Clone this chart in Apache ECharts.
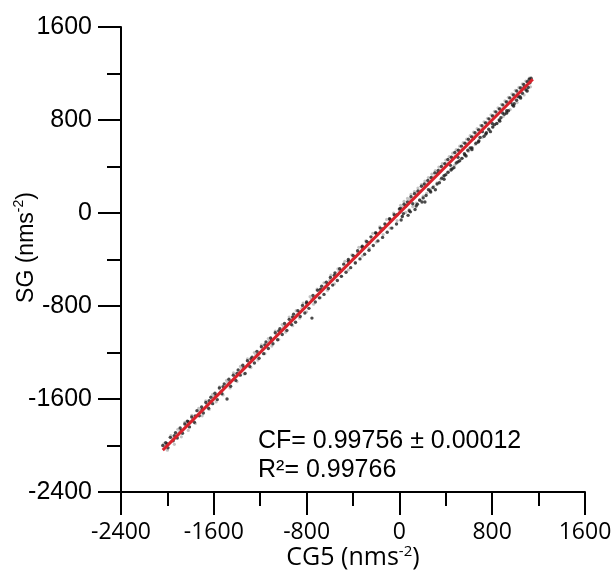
<!DOCTYPE html>
<html>
<head>
<meta charset="utf-8">
<script src="https://cdn.jsdelivr.net/npm/echarts@6/dist/echarts.min.js"></script>
<style>html,body{margin:0;padding:0;background:#fff;}#c{width:614px;height:579px;}</style>
</head>
<body>
<div id="c"></div>
<script>
// Axis ticks
var xTicks = [-2400, -1600, -800, 0, 800, 1600];
var yTicks = [-2400, -1600, -800, 0, 800, 1600];

// Fitted line endpoints (CG5, SG)
var fitCG = [-2040, 1150];
var fitSG = [-2040, 1150];

// Dark observation points [CG5, SG]
var darkPoints = [
[-2040,-2000],[-2015,-1975],[-1995,-2020],[-1975,-1930],[-1950,-1960],[-1930,-1890],[-1915,-1935],
[-1890,-1850],[-1870,-1895],[-1850,-1815],[-1828,-1790],[-1810,-1840],[-1790,-1755],[-1768,-1800],
[-1745,-1700],[-1725,-1745],[-1705,-1668],[-1690,-1720],[-1668,-1630],[-1645,-1680],[-1625,-1585],
[-1610,-1640],[-1590,-1550],[-1570,-1605],[-1552,-1505],[-1530,-1555],[-1510,-1470],[-1486,-1600],
[-1470,-1430],[-1455,-1490],[-1432,-1395],[-1410,-1440],[-1390,-1350],[-1372,-1395],[-1350,-1310],
[-1330,-1380],[-1310,-1270],[-1290,-1320],[-1270,-1240],[-1250,-1290],[-1228,-1190],[-1210,-1250],
[-1190,-1150],[-1170,-1210],[-1150,-1110],[-1130,-1165],[-1110,-1075],[-1090,-1125],[-1070,-1030],
[-1050,-1090],[-1030,-995],[-1010,-1045],
[-990,-950],[-970,-1010],[-950,-915],[-930,-960],[-912,-870],[-895,-940],[-875,-840],[-855,-890],
[-835,-795],[-815,-860],[-800,-765],[-780,-820],[-754,-904],[-745,-710],[-725,-765],[-705,-665],
[-690,-730],[-670,-630],[-650,-700],[-630,-595],[-612,-650],[-595,-555],[-575,-620],[-555,-515],
[-535,-580],[-515,-480],[-500,-545],[-480,-440],[-460,-510],[-440,-400],[-420,-470],[-400,-365],
[-380,-430],[-360,-325],[-340,-395],[-320,-285],[-300,-355],[-282,-245],[-262,-320],[-245,-205],
[-225,-280],[-205,-170],[-185,-240],[-165,-130],[-145,-210],[-125,-95],[-105,-165],[-85,-50],
[-65,-130],[-45,-15],[-25,-95],
[0,35],[15,-60],[35,-5],[55,60],[75,-20],[95,10],[115,80],[135,30],[155,75],[175,110],[195,95],
[220,94],[230,150],[250,200],[270,180],[290,220],[310,200],[330,340],[345,260],[365,300],[385,290],
[400,330],[420,350],[440,410],[455,380],[470,390],[490,430],[505,480],[520,450],[540,470],[560,510],
[575,490],[590,540],[610,560],[625,545],[640,640],[660,600],[680,610],[695,650],[715,700],[730,660],
[750,690],[770,720],[785,700],[800,770],[820,760],[840,770],[860,800],[875,820],[890,860],[905,850],
[925,880],[940,880],[960,950],[975,930],[990,940],[1010,970],[1025,1000],[1040,1000],[1060,1030],
[1075,1080],[1090,1060],[1110,1080],[1125,1120],[1135,1160],[1120,1150],
[10,40],[40,75],[70,95],[100,140],[130,165],[160,190],[190,230],[215,250],[245,280],[275,305],
[305,345],[335,365],[362,400],[392,425],[418,460],[448,480],[478,520],[508,540],[535,575],[565,600],
[595,635],[622,655],[652,690],[682,715],[712,750],[742,775],[772,810],[802,835],[832,870],[862,895],
[892,930],[922,955],[952,990],[982,1015],[1012,1050],[1042,1075],[1072,1105],[1102,1130],
[25,-30],[85,20],[145,60],[205,130],[265,190],[325,250],[385,320],[445,370],[505,440],[565,500],
[625,560],[685,620],[745,680],[805,740],[865,790],[925,860],[985,920],[1045,990],[1100,1050],
[-2005,-1985],[-1940,-1915],[-1880,-1870],[-1820,-1795],[-1760,-1745],[-1700,-1690],[-1640,-1615],
[-1580,-1570],[-1520,-1495],[-1460,-1455],[-1400,-1380],[-1340,-1330],[-1280,-1255],[-1220,-1215],
[-1160,-1135],[-1100,-1095],[-1040,-1015],[-980,-975],[-920,-895],[-860,-855],[-800,-775],
[-740,-735],[-680,-655],[-620,-615],[-560,-535],[-500,-495],[-440,-415],[-380,-375],[-320,-295],
[-260,-255],[-200,-175],[-140,-135],[-80,-55],[-20,-15]
];

// Light observation points [CG5, SG]
var lightPoints = [
[-2020,-2005],[-1960,-1935],[-1900,-1890],[-1840,-1820],[-1780,-1770],[-1720,-1700],[-1660,-1650],
[-1600,-1580],[-1540,-1535],[-1480,-1460],[-1420,-1410],[-1360,-1340],[-1300,-1290],[-1240,-1220],
[-1180,-1175],[-1120,-1100],[-1060,-1050],[-1000,-980],[-960,-955],[-920,-900],[-880,-870],
[-840,-820],[-800,-790],[-760,-740],[-720,-712],[-680,-660],[-640,-632],[-600,-580],[-560,-550],
[-520,-500],[-480,-472],[-440,-420],[-400,-392],[-360,-340],[-320,-312],[-280,-262],[-240,-232],
[-200,-180],[-160,-150],[-120,-100],[-80,-72],[-40,-20],[0,8],[30,50],[60,72],[90,115],[120,130],
[150,178],[180,190],[210,238],[240,250],[270,300],[300,312],[330,355],[360,370],[390,420],[420,430],
[450,480],[480,490],[510,540],[540,548],[570,600],[600,612],[630,660],[660,668],[690,720],[720,728],
[750,780],[780,790],[810,840],[840,848],[870,900],[900,905],[930,960],[960,965],[990,1020],
[1020,1028],[1050,1080],[1080,1085],[1110,1135],[1130,1140],
[-2030,-1985],[-2000,-2040],[-1970,-1915],[-1940,-1990],[-1910,-1860],[-1880,-1925],[-1850,-1800],
[-1820,-1870],[-1790,-1740],[-1760,-1810],[-1730,-1680],[-1700,-1745],[-1670,-1615],[-1640,-1690],
[-1610,-1560],[-1580,-1625],[-1550,-1495],[-1520,-1565],[-1490,-1440],[-1460,-1505],[-1430,-1375],
[-1400,-1450],[-1370,-1320],[-1340,-1385],[-1310,-1255],[-1280,-1330],[-1250,-1200],[-1220,-1265],
[-1190,-1135],[-1160,-1210],[-1130,-1080],[-1100,-1145],[-1070,-1015],[-1040,-1090],[-1010,-960],
[-980,-1025],[-950,-895],[-920,-970],[-890,-840],[-860,-905],[-830,-775],[-800,-850],[-770,-720],
[-740,-785],[-710,-655],[-680,-730],[-650,-600],[-620,-665],[-590,-535],[-560,-610],[-530,-480],
[-500,-545],[-470,-415],[-440,-490],[-410,-360],[-380,-425],[-350,-295],[-320,-370],[-290,-240],
[-260,-305],[-230,-175],[-200,-250],[-170,-120],[-140,-185],[-110,-55],[-80,-130],[-50,0],[-20,-65],
[10,65],[25,-25],[40,100],[55,5],[70,125],[85,30],[100,160],[115,55],[130,185],[145,85],[160,215],
[175,115],[190,245],[205,145],[220,275],[235,170],[250,305],[265,205],[280,335],[295,230],[310,365],
[325,260],[340,395],[355,290],[370,425],[385,320],[400,455],[415,350],[430,485],[445,380],[460,515],
[475,410],[490,545],[505,440],[520,575],[535,470],[550,605],[565,500],[580,635],[595,530],[610,665],
[625,560],[640,695],[655,590],[670,725],[685,620],[700,755],[715,650],[730,785],[745,680],[760,815],
[775,710],[790,845],[805,740],[820,875],[835,770],[850,905],[865,800],[880,935],[895,830],[910,965],
[925,860],[940,995],[955,890],[970,1025],[985,920],[1000,1055],[1015,950],[1030,1080],[1045,985],
[1060,1110],[1075,1015],[1090,1135],[1105,1050],[1120,1160],[1130,1085]
];

var fitLine = fitCG.map(function (v, i) { return [v, fitSG[i]]; });

var chart = echarts.init(document.getElementById('c'), null, {renderer: 'canvas'});
var axisCommon = function (ticks, labelFont, labelSize, margin) {
  return {
    type: 'value',
    min: ticks[0],
    max: ticks[ticks.length - 1],
    interval: ticks[1] - ticks[0],
    nameMoveOverlap: false,
    axisLine: {show: true, onZero: false, lineStyle: {color: '#000', width: 2}},
    axisTick: {show: true, length: 23, lineStyle: {color: '#000', width: 2}},
    minorTick: {show: true, splitNumber: 2, length: 14, lineStyle: {color: '#000', width: 2}},
    splitLine: {show: false},
    minorSplitLine: {show: false},
    axisLabel: {
      show: true, color: '#000', fontFamily: labelFont, fontSize: labelSize, margin: margin,
      showMinLabel: true, showMaxLabel: true,
      formatter: function (v) { return String(v); }
    }
  };
};
var xAx = axisCommon(xTicks, 'Open Sans', 23, 29);
xAx.name = '{a|CG5 (nms}{s|-2}{a|)}';
xAx.nameLocation = 'middle';
xAx.nameGap = 52;
xAx.nameTextStyle = {rich: {
  a: {fontFamily: 'Open Sans', fontSize: 25, color: '#000', verticalAlign: 'bottom', lineHeight: 26},
  s: {fontFamily: 'Open Sans', fontSize: 15, color: '#000', verticalAlign: 'top', lineHeight: 26, padding: [0,0,10,0]}
}};
var yAx = axisCommon(yTicks, 'Liberation Sans', 25, 29);
yAx.name = '{a|SG (nms}{s|-2}{a|)}';
yAx.nameLocation = 'middle';
yAx.nameRotate = 90;
yAx.nameGap = 83;
yAx.nameTextStyle = {padding: [0, 0, 0, 24], rich: {
  a: {fontFamily: 'Liberation Sans', fontSize: 23, color: '#000', verticalAlign: 'bottom', lineHeight: 26},
  s: {fontFamily: 'Liberation Sans', fontSize: 14, color: '#000', verticalAlign: 'top', lineHeight: 26, padding: [0,0,10,0]}
}};

chart.setOption({
  animation: false,
  backgroundColor: '#fff',
  grid: {left: 121, right: 29, top: 27, bottom: 87, containLabel: false, outerBoundsMode: 'none'},
  xAxis: xAx,
  yAxis: yAx,
  series: [
    {type: 'scatter', data: lightPoints, symbol: 'circle', symbolSize: 3.2,
     itemStyle: {color: '#b4b4b4'}, z: 2},
    {type: 'scatter', data: darkPoints, symbol: 'circle', symbolSize: 3.4,
     itemStyle: {color: '#1e1e1e'}, z: 3},
    {type: 'line', data: fitLine, symbol: 'none', lineStyle: {color: '#d9222b', width: 3}, z: 4}
  ],
  graphic: [
    {type: 'text', x: 258, y: 441, style: {text: 'CF= 0.99756 ± 0.00012', font: '25px "Liberation Sans"', fill: '#000', verticalAlign: 'middle'}},
    {type: 'text', x: 258, y: 470, style: {text: 'R²= 0.99766', font: '25px "Liberation Sans"', fill: '#000', verticalAlign: 'middle'}}
  ]
});
</script>
</body>
</html>
